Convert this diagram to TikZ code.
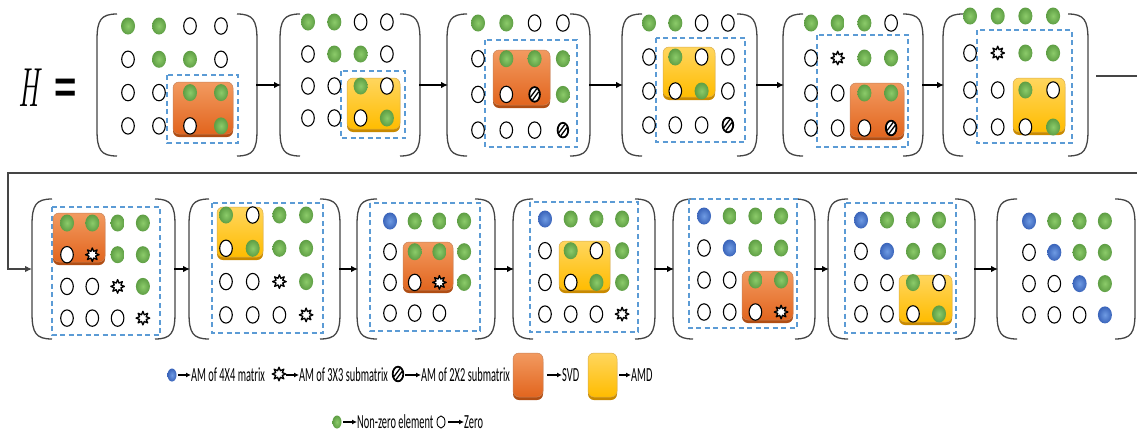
\documentclass[tikz,border=0pt]{standalone}
\usepackage{graphicx}
\usepackage{fontspec}
\usetikzlibrary{arrows.meta,calc}
\newfontfamily\legfont{Carlito}
\newfontfamily\eqfont{Liberation Sans}
\definecolor{gin}{HTML}{8CCB6A}
\definecolor{gout}{HTML}{5E9E44}
\definecolor{bin}{HTML}{6F9BE3}
\definecolor{bout}{HTML}{3A64BA}
\definecolor{dashblue}{HTML}{5B9BD5}
\definecolor{svdtop}{HTML}{F29A60}
\definecolor{svdbot}{HTML}{E2651E}
\definecolor{svdsh}{HTML}{B04E14}
\definecolor{amdtop}{HTML}{FFD65E}
\definecolor{amdbot}{HTML}{FFBC00}
\definecolor{amdsh}{HTML}{C98A00}
\definecolor{pargray}{HTML}{454545}
\tikzset{
  mat/.style={draw=none,inner sep=0pt,outer sep=0pt},
  paren/.style={draw=pargray,line width=1.3pt},
  dbox/.style={draw=dashblue,line width=1.6pt,dash pattern=on 5pt off 3.5pt},
  arr/.style={line width=1.3pt,-{Latex[length=7pt,width=6.5pt]},shorten <=-1pt,shorten >=-1pt},
  larr/.style={line width=1.1pt,-{Latex[length=5pt,width=5pt]}},
  leg/.style={anchor=west,inner sep=0pt},
  fb/.style={draw=pargray,line width=1.1pt}
}
\newcommand{\lt}[1]{\scalebox{0.52}[1]{\legfont\fontsize{20}{22}\selectfont #1}}
% element glyphs
\newcommand{\mxg}[2]{\shade[inner color=gin,outer color=gout] (#1,#2) ellipse [x radius=7,y radius=8.5];}
\newcommand{\mxb}[2]{\shade[inner color=bin,outer color=bout] (#1,#2) ellipse [x radius=7,y radius=8.5];}
\newcommand{\mxo}[2]{\draw[line width=1.1pt,fill=white] (#1,#2) ellipse [x radius=6.3,y radius=8.2];}
\newcommand{\mxn}[2]{}
\newcommand{\mxs}[2]{\draw[line width=1.3pt,fill=white,line join=round] (#1,#2) +(90:6.8) \foreach \a in {0,45,...,315}{ -- +(\a+90:6.8) -- +(\a+112.5:3.6)} -- cycle;}
\newcommand{\mxt}[2]{\draw[line width=1.8pt,fill=white] (#1,#2) ellipse [x radius=5.3,y radius=7.3];
  \draw[line width=1.3pt] ($(#1,#2)+(-4,2.5)$) -- ($(#1,#2)+(2,-5.5)$);
  \draw[line width=1.3pt] ($(#1,#2)+(-2,5.5)$) -- ($(#1,#2)+(4,-2.5)$);}
\newcommand{\drawmat}[5]{%
  \foreach \c [count=\i from 0] in {#5}{%
    \pgfmathsetmacro\xx{#1+#2*mod(\i,4)}%
    \pgfmathsetmacro\yy{#3+#4*int(\i/4)}%
    \csname mx\c\endcsname{\xx}{\yy}%
  }}
\newcommand{\dshbx}[4]{\draw[dbox] (#1,#2) rectangle (#3,#4);}
\newcommand{\svdbox}[4]{%
  \fill[svdsh,rounded corners=6pt] (#1,#2+3) rectangle (#3,#4);
  \shadedraw[top color=svdtop,bottom color=svdbot,draw=svdsh!70,line width=0.5pt,rounded corners=6pt] (#1,#2) rectangle (#3,#4-3);}
\newcommand{\amdbox}[4]{%
  \fill[amdsh,rounded corners=6pt] (#1,#2+3) rectangle (#3,#4);
  \shadedraw[top color=amdtop,bottom color=amdbot,draw=amdsh!70,line width=0.5pt,rounded corners=6pt] (#1,#2) rectangle (#3,#4-3);}
\newcommand{\parens}[1]{%
  \draw[paren] ($(#1.north west)+(20,0)$) .. controls ($(#1.north west)+(4,0)$) and ($(#1.north west)+(0,6)$) .. ($(#1.north west)+(0,26)$) -- ($(#1.south west)+(0,-26)$) .. controls ($(#1.south west)+(0,-6)$) and ($(#1.south west)+(4,0)$) .. ($(#1.south west)+(20,0)$);
  \draw[paren] ($(#1.north east)+(-20,0)$) .. controls ($(#1.north east)+(-4,0)$) and ($(#1.north east)+(0,6)$) .. ($(#1.north east)+(0,26)$) -- ($(#1.south east)+(0,-26)$) .. controls ($(#1.south east)+(0,-6)$) and ($(#1.south east)+(-4,0)$) .. ($(#1.south east)+(-20,0)$);}
\begin{document}
\begin{tikzpicture}[x=1pt,y=-1pt]
\useasboundingbox (0,0) rectangle (1137,434);
\fill[white] (0,0) rectangle (1137,434);
% H =
\node[inner sep=0pt] (H) at (29,88) {\scalebox{0.52}[1]{\fontsize{55}{55}\selectfont\itshape H}};
\node[inner sep=0pt] (eq) at (66,91) {\scalebox{0.85}[1]{\eqfont\bfseries\fontsize{45}{45}\selectfont =}};
% matrix frames row 1
\node[mat,minimum width=160pt,minimum height=142pt] (m1) at (177,85) {};
\node[mat,minimum width=140pt,minimum height=142pt] (m2) at (350,85) {};
\node[mat,minimum width=143pt,minimum height=142pt] (m3) at (518.5,85) {};
\node[mat,minimum width=135pt,minimum height=142pt] (m4) at (689.5,85) {};
\node[mat,minimum width=140pt,minimum height=142pt] (m5) at (853,85) {};
\node[mat,minimum width=145pt,minimum height=142pt] (m6) at (1015.5,85) {};
% row 2
\node[mat,minimum width=143pt,minimum height=140pt] (m7) at (103.5,269) {};
\node[mat,minimum width=151pt,minimum height=140pt] (m8) at (264.5,269) {};
\node[mat,minimum width=138pt,minimum height=140pt] (m9) at (426,269) {};
\node[mat,minimum width=142pt,minimum height=140pt] (m10) at (584,269) {};
\node[mat,minimum width=142pt,minimum height=140pt] (m11) at (744,269) {};
\node[mat,minimum width=147pt,minimum height=140pt] (m12) at (901.5,269) {};
\node[mat,minimum width=138pt,minimum height=140pt] (m13) at (1066,269) {};
\foreach \m in {m1,m2,m3,m4,m5,m6,m7,m8,m9,m10,m11,m12,m13}{\parens{\m}}
% contents
\dshbx{167}{75}{238}{143}\svdbox{173}{82}{233}{137}
\drawmat{128}{31}{26}{33.3}{g,g,o,o,o,g,g,o,o,o,g,g,o,o,o,g}
\dshbx{341}{71}{405}{138}\amdbox{347}{78}{400}{132}
\drawmat{308}{26.3}{22}{32}{g,g,o,o,o,g,g,o,o,o,g,o,o,o,o,g}
\dshbx{485}{40}{577}{147}\svdbox{493}{50}{550}{108}
\drawmat{478}{28.3}{23}{35.7}{g,g,o,o,o,g,g,g,o,o,t,g,o,o,o,t}
\dshbx{656}{38}{745}{142}\amdbox{663}{47}{715}{100}
\drawmat{649}{26.3}{23}{34}{g,g,o,o,o,g,o,o,o,o,g,o,o,o,o,t}
\dshbx{817}{35}{908}{147}\svdbox{850}{83}{904}{140}
\drawmat{811}{26.7}{23}{35}{g,g,g,o,o,s,g,g,o,o,g,g,o,o,o,t}
\dshbx{977}{30}{1072}{143}\amdbox{1013}{78}{1065}{135}
\drawmat{970}{27.7}{16}{37}{g,g,g,g,o,s,g,g,o,o,g,o,o,o,o,g}
\dshbx{52}{207}{160}{335}\svdbox{53}{213}{105}{265}
\drawmat{67}{25.3}{223}{31.7}{g,g,g,g,o,s,g,g,o,o,s,g,o,o,o,s}
\dshbx{212}{203}{323}{333}\amdbox{217}{207}{263}{260}
\drawmat{226}{26.7}{215}{33.3}{g,o,g,g,o,g,g,g,o,o,s,g,o,o,o,s}
\dshbx{370}{203}{480}{331}\svdbox{403}{242}{453}{293}
\drawmat{390}{24.7}{221}{30.7}{b,g,g,g,o,g,g,g,o,o,s,g,o,o,o,n}
\dshbx{530}{202}{638}{332}\amdbox{559}{241}{610}{293}
\drawmat{545}{25.7}{219}{31.7}{b,g,g,g,o,g,o,g,o,o,g,g,o,o,o,s}
\dshbx{689}{199}{797}{328}\svdbox{742}{271}{793}{323}
\drawmat{704}{25.7}{216}{32}{b,g,g,g,o,b,g,g,o,o,g,g,o,o,o,s}
\dshbx{845}{203}{956}{333}\amdbox{899}{275}{952}{325}
\drawmat{861}{26}{220}{31.3}{b,g,g,g,o,b,g,g,o,o,g,o,o,o,o,g}
\drawmat{1029}{25.3}{221}{31.3}{b,g,g,g,o,b,g,g,o,o,b,g,o,o,o,b}
% arrows
\draw[arr] (m1.east) -- (m2.west);
\draw[arr] (m2.east) -- (m3.west);
\draw[arr] (m3.east) -- (m4.west);
\draw[arr] (m4.east) -- (m5.west);
\draw[arr] (m5.east) -- (m6.west);
\draw[arr] (m7.east) -- (m8.west);
\draw[arr] (m8.east) -- (m9.west);
\draw[arr] (m9.east) -- (m10.west);
\draw[arr] (m10.east) -- (m11.west);
\draw[arr] (m11.east) -- (m12.west);
\draw[arr] (m12.east) -- (m13.west);
% feedback
\coordinate (fbA) at (1096,76);
\coordinate (fbB) at (1137,76);
\coordinate (fbC) at (1137,173);
\coordinate (fbD) at (8,173);
\draw[fb] (fbA) -- (fbB);
\draw[fb,-{Latex[length=7pt,width=6.5pt]}] (fbC) -- (fbD) |- (m7.west);
% legend
\shade[inner color=bin,outer color=bout] (172,375) ellipse [x radius=4.5,y radius=6.5];
\node[leg] (t1) at (191,375) {\lt{AM of 4X4 matrix}};
\draw[larr] (178,375) -- (t1.west);
\mxs{279}{374}
\node[leg] (t2) at (299,375) {\lt{AM of 3X3 submatrix}};
\draw[larr] (286,375) -- (t2.west);
\mxt{398}{374}
\node[leg] (t3) at (421,375) {\lt{AM of 2X2 submatrix}};
\draw[larr] (405,375) -- (t3.west);
\svdbox{513}{353}{543}{400}
\node[leg] (t4) at (562,375) {\lt{SVD}};
\draw[larr] (547,375) -- (t4.west);
\amdbox{588}{353}{617}{400}
\node[leg] (t5) at (631,375) {\lt{AMD}};
\draw[larr] (619,375) -- (t5.west);
\shade[inner color=gin,outer color=gout] (337,422) ellipse [x radius=4.5,y radius=6.5];
\node[leg] (t6) at (357,422) {\lt{Non-zero element}};
\draw[larr] (343,422) -- (t6.west);
\draw[line width=0.9pt] (441,422) ellipse [x radius=4,y radius=6];
\node[leg] (t7) at (464,422) {\lt{Zero}};
\draw[larr] (448,422) -- (t7.west);
\end{tikzpicture}
\end{document}
